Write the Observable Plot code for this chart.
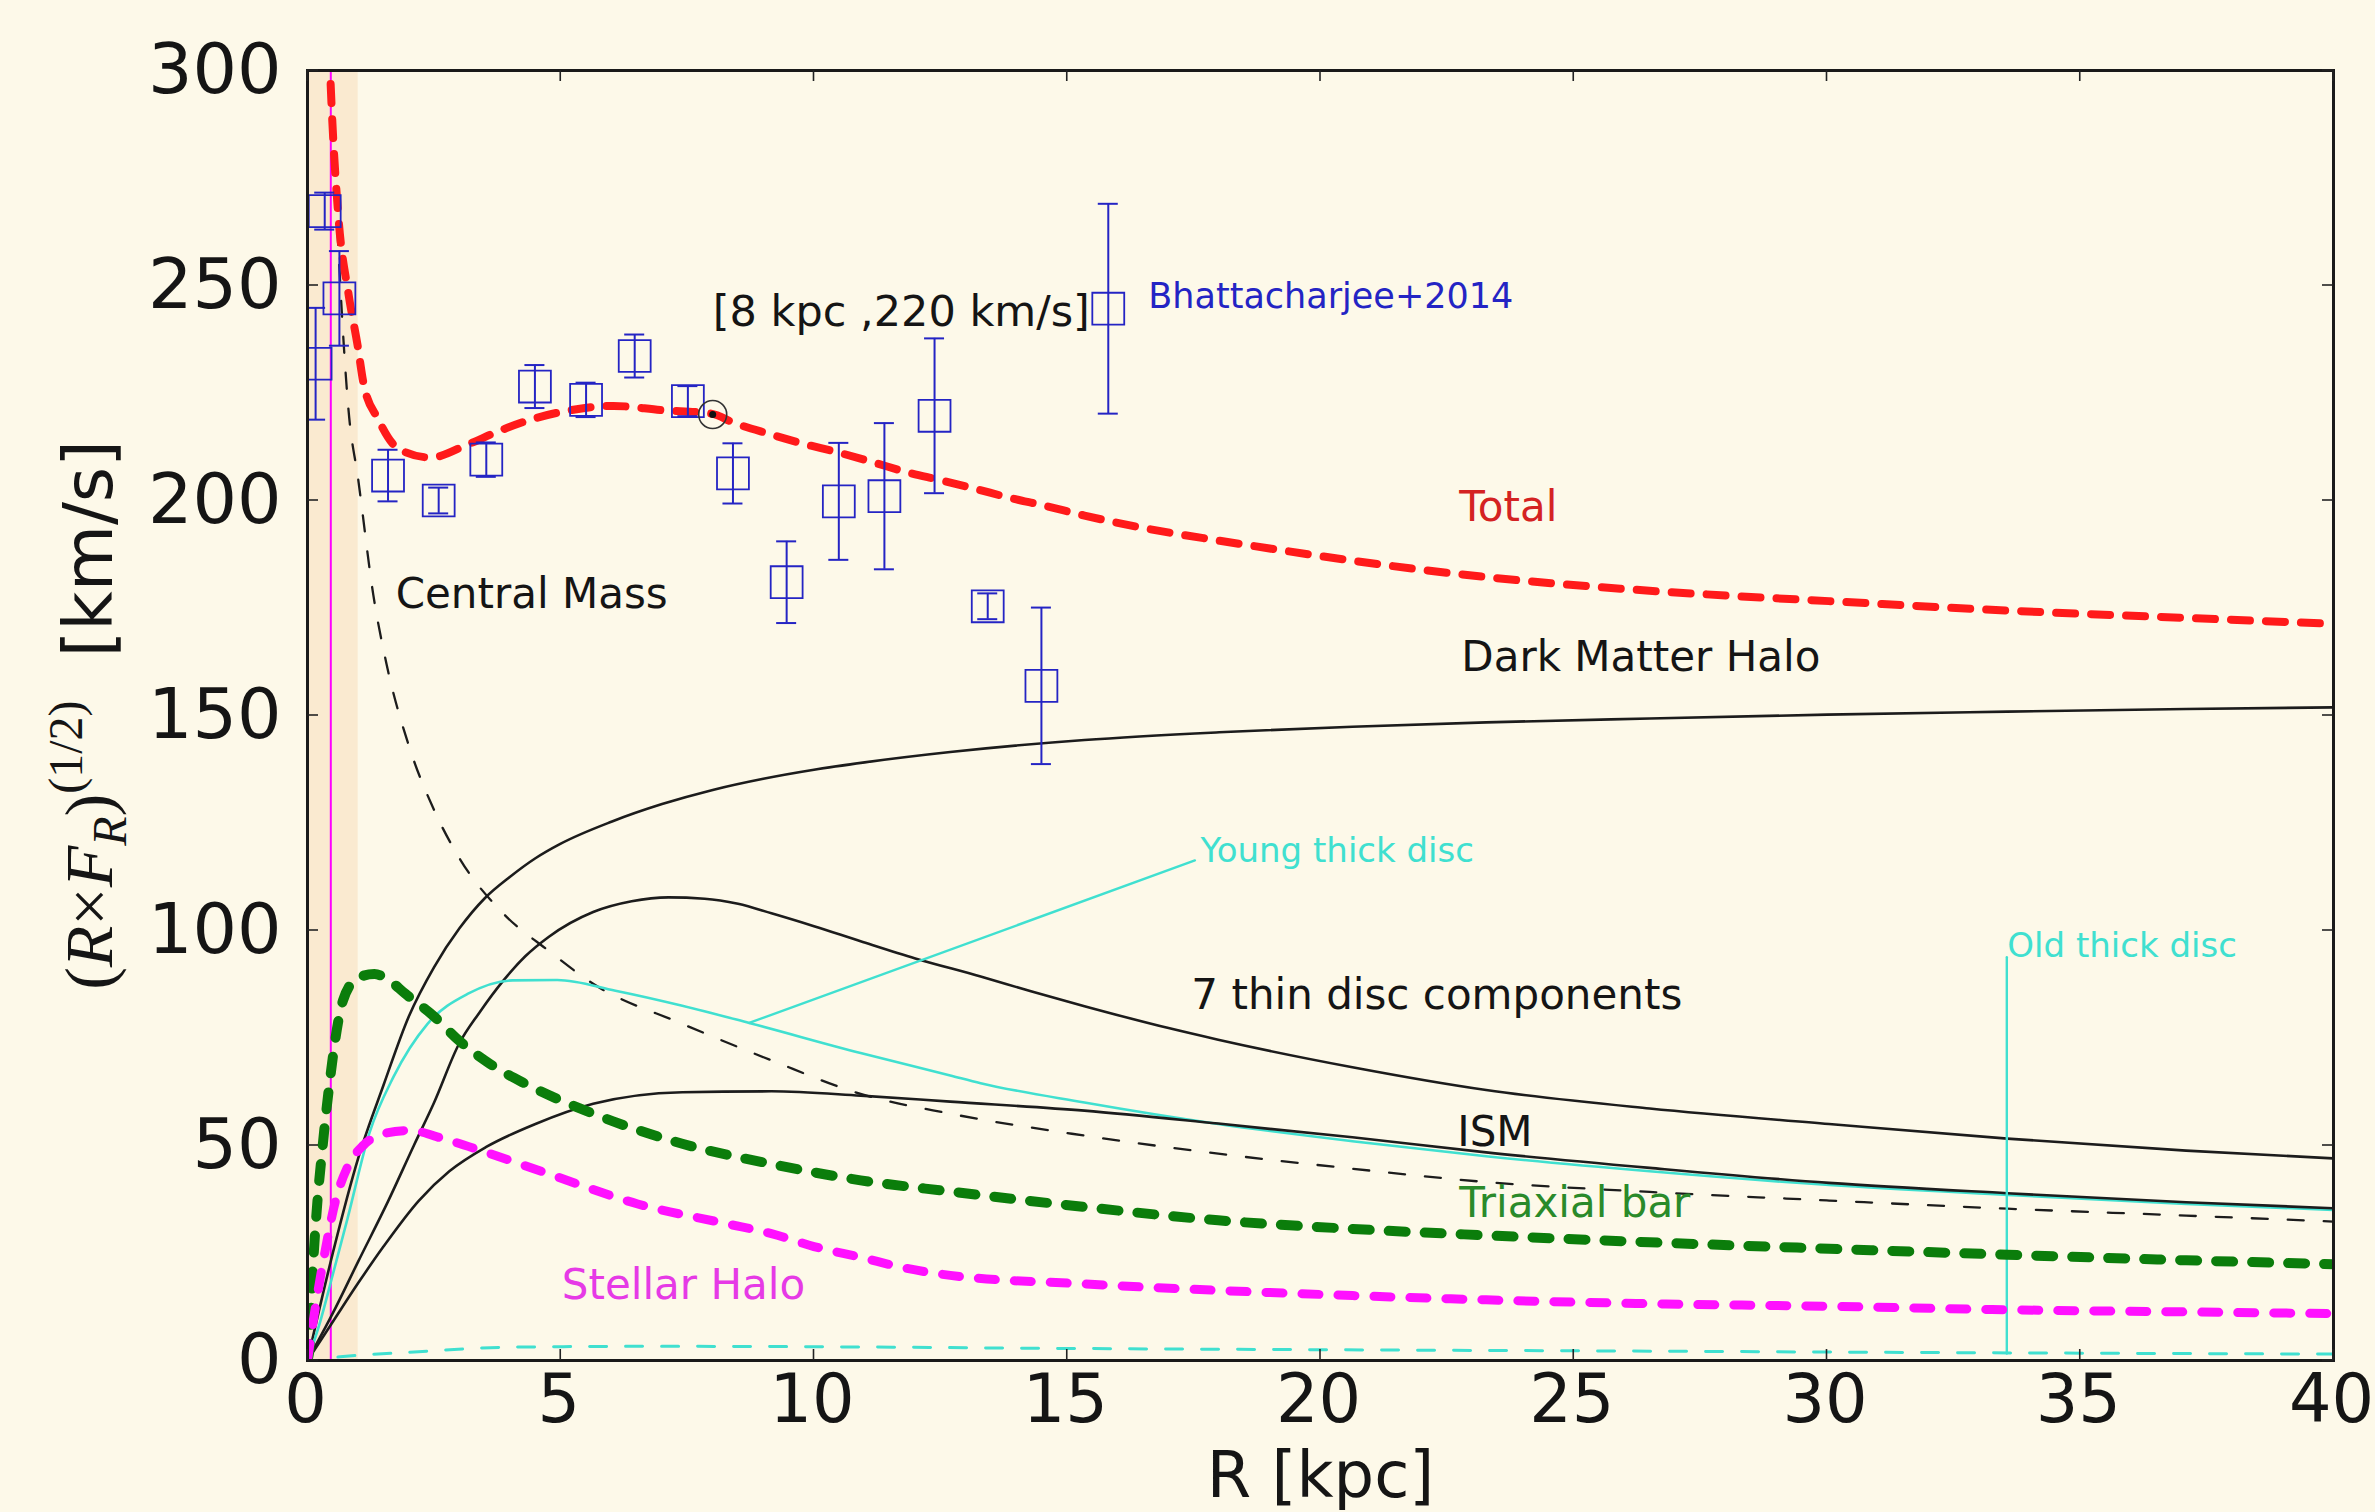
<!DOCTYPE html>
<html><head><meta charset="utf-8">
<script src="https://cdn.jsdelivr.net/npm/d3@7"></script>
<script src="https://cdn.jsdelivr.net/npm/@observablehq/plot@0.6"></script>
<style>html,body{margin:0;padding:0;background:#fdf9e9;} svg{display:block}</style>
</head><body><div id="chart"></div>
<script>
// ---- ticks ----
const xTicks = [0,5,10,15,20,25,30,35,40];
const yTicks = [0,50,100,150,200,250,300];

// ---- model curves (R [kpc], V [km/s]) ----
const totalR = [0.43,0.46,0.61,0.81,0.99,1.11,1.39,1.8,2.43,3.16,3.75,4.46,5.19,6.04,7.0,7.97,8.43,9.11,9.79,10.47,11.16,11.83,12.51,13.19,13.87,14.55,15.34,16.6,17.98,19.3,20.63,23.27,25.92,28,30.04,33.56,37.09,40];
const totalV = [305,296,266,248,236,227,219,212,210,213,216,219,221,222,221,220.2,218,215.5,213.2,211.2,208.9,206.6,204.7,202.7,200.6,198.8,196.5,193.4,190.7,188.3,186,182.2,179.5,177.9,176.6,174.4,172.7,171.3];

const haloR = [0,0.5,1,1.5,2,2.5,3,3.5,4,4.5,5,6,7,8,9,10,11,12.69,15.34,18,20.63,23.27,26.5,30,33.56,37.09,40];
const haloV = [0,25,47,64,80,91.5,100.5,107.5,112.5,116.8,120.2,125.3,129.4,132.7,135.3,137.4,139.1,141.5,144.3,146.1,147.4,148.4,149.3,150.2,150.9,151.5,151.9];

const thinR = [0,0.5,1,1.59,2.1,2.5,2.99,3.4,3.87,4.3,4.76,5.64,6.4,7.13,7.84,8.5,9.16,10,10.92,12,13.29,14.3,15.34,17,17.98,20.63,23.27,26.5,30.04,33.56,37.09,40];
const thinV = [0,11,23,37,50,60,73.6,81,88.4,94,98.5,104.3,106.8,107.7,107.4,106.2,104,101,97.5,93.5,89.3,85.8,82.4,77.3,74.6,68.2,62.9,58.6,55,51.6,48.8,47];

const youngR = [0,0.25,0.5,0.79,1.22,1.7,2.37,3.17,4.05,4.93,6.08,7.4,8.72,10.92,12.69,13.29,15.34,17.98,20.63,23.27,26.5,30.04,33.56,37.09,40];
const youngV = [0,9,20,33,52.8,66,78.3,85.3,88.4,88.5,86,82.5,78.5,71.5,66.3,64.5,60,55,51,47.5,44,40.8,38.5,36.4,35];

const ismR = [0,0.5,1,1.5,2.2,2.8,3.52,4.5,5.64,7.4,9.16,10.92,12.69,15.34,17.98,20.63,23.27,26.5,30.04,33.56,37.09,40];
const ismV = [0,9,18,26.5,37.2,44,49.6,55,59.7,62.4,62.6,61.6,60.2,58.1,55.1,51.9,48.4,44.8,41.3,38.9,36.8,35.4];

const centralR = [0.44,0.5,0.6,0.81,1.0,1.3,1.56,2,2.5,2.99,3.87,4.76,5.64,7.4,9.16,10.92,12.69,15.34,17.98,20.63,23.27,26.5,30.04,33.56,37.09,40];
const centralV = [305,287,261,221,205,178,162,143,128,117,103.9,95.3,87.6,78.3,69.8,62,57.4,52.3,48.1,44.6,41.5,39.2,37.2,35.3,33.7,32.3];

const barR = [0,0.04,0.1,0.17,0.3,0.43,0.7,1.0,1.32,1.6,1.93,2.5,2.99,3.6,4.31,5.64,7.4,9.16,10.92,12.69,15.34,17.98,20.63,23.27,26.5,30.04,33.56,37.09,40];
const barV = [0,3,20,33,50,64,83.7,89,89.9,88.5,85.3,80,74.4,69,64.3,57.4,50.4,45.7,41.9,39.3,35.7,32.6,30.6,29.1,27.5,26,24.6,23.3,22.4];

const shaloR = [0,0.15,0.35,0.55,0.79,1.1,1.49,2.02,2.7,3.43,4.76,6.52,8.28,9.16,10.0,10.92,11.8,12.69,15.34,17.98,20.63,23.27,26.5,30.04,33.56,37.09,40];
const shaloV = [0,12,25.6,37,45,50,52.7,53.5,51.5,48.8,43.4,36.4,31.8,29.5,26.5,24,21.5,19.8,17.8,16.3,15.1,14.1,13.2,12.6,11.8,11.3,10.9];

const oldR = [0.6,1,2,4,7,10,15,20,26,33,40];
const oldV = [0.8,1.2,1.9,3.1,3.3,3.2,2.8,2.5,2.2,1.8,1.5];

// ---- observations (Bhattacharjee+2014) ----
const obsR   = [0.16,0.34,0.63,1.59,2.59,3.53,4.49,5.5,6.46,7.51,8.4,9.46,10.49,11.39,12.38,13.43,14.49,15.81];
const obsV   = [231.8,267.3,247,205.8,200,209.5,226.5,223.4,233.6,223.1,206.3,181,199.8,201,219.7,175.4,156.9,244.6];
const obsErr = [13,4.3,11,6,3,4,5,4,5,3.5,7,9.5,13.6,17,18,3,18.2,24.4];

// ---- other elements ----
const band = [0, 1.0];
const magentaR = [0.46];
const sun = [{R: 8, V: 220}];
const youngPointer = [{R: 8.72, V: 78.5}, {R: 17.52, V: 116.3}];
const oldPointer = [{R: 33.55, V: 1.6}, {R: 33.55, V: 93.8}];

const labels = [
  {text: "Total", R: 22.74, V: 195.2, color: "#d42222", size: 42},
  {text: "Dark Matter Halo", R: 22.78, V: 160.3, color: "#151515", size: 42},
  {text: "7 thin disc components", R: 17.45, V: 81.8, color: "#151515", size: 42},
  {text: "ISM", R: 22.7, V: 50, color: "#151515", size: 42},
  {text: "Triaxial bar", R: 22.74, V: 33.3, color: "#2a8a2a", size: 42},
  {text: "Stellar Halo", R: 5.02, V: 14.4, color: "#e63ae6", size: 42},
  {text: "Central Mass", R: 1.74, V: 174.9, color: "#151515", size: 42},
  {text: "[8 kpc ,220 km/s]", R: 8.0, V: 240.5, color: "#151515", size: 43},
  {text: "Bhattacharjee+2014", R: 16.6, V: 244.8, color: "#2424c4", size: 35},
  {text: "Young thick disc", R: 17.63, V: 115.9, color: "#40e0d0", size: 34},
  {text: "Old thick disc", R: 33.56, V: 93.9, color: "#40e0d0", size: 34}
];

const rows = (R, V) => R.map((r, i) => ({R: r, V: V[i]}));
const obs = obsR.map((r, i) => ({R: r, V: obsV[i], err: obsErr[i]}));

const BG = "#fdf9e9", BLUE = "#2424c4", CYAN = "#40e0d0", BLACK = "#1c1c1c";

const lineOpts = (stroke, w, dash) => ({x: "R", y: "V", stroke, strokeWidth: w, strokeDasharray: dash, curve: "monotone-x", clip: true});

const plot = Plot.plot({
  width: 2375,
  height: 1512,
  marginLeft: 307,
  marginRight: 42,
  marginTop: 70,
  marginBottom: 152,
  style: {background: BG, fontFamily: "DejaVu Sans"},
  x: {domain: [0, 40], label: null},
  y: {domain: [0, 300], label: null},
  marks: [
    Plot.rect([band], {x1: d => d[0], x2: d => d[1], y1: 0, y2: 300, fill: "#faead0"}),
    Plot.ruleX(magentaR, {stroke: "#ff00ff", strokeWidth: 2}),
    Plot.line(rows(oldR, oldV), lineOpts(CYAN, 3, "17,19")),
    Plot.line(rows(centralR, centralV), lineOpts(BLACK, 2.3, "16,20")),
    Plot.line(rows(haloR, haloV), lineOpts(BLACK, 2.6)),
    Plot.line(rows(thinR, thinV), lineOpts(BLACK, 2.6)),
    Plot.line(rows(youngR, youngV), lineOpts(CYAN, 2.6)),
    Plot.line(rows(ismR, ismV), lineOpts(BLACK, 2.6)),
    Plot.line(youngPointer, {x: "R", y: "V", stroke: CYAN, strokeWidth: 2.4}),
    Plot.line(oldPointer, {x: "R", y: "V", stroke: CYAN, strokeWidth: 2.4}),
    Plot.line(rows(barR, barV), lineOpts("#0b7d0b", 10, "17,19")),
    Plot.line(rows(shaloR, shaloV), lineOpts("#ff10ff", 9, "17,19")),
    Plot.line(rows(totalR, totalV), lineOpts("#ff1a1a", 8, "19,16")),
    Plot.ruleX(obs, {x: "R", y1: d => d.V - d.err, y2: d => d.V + d.err, stroke: BLUE, strokeWidth: 2, clip: true}),
    Plot.ruleY(obs, {y: d => d.V + d.err, x1: "R", x2: "R", insetLeft: -10, insetRight: -10, stroke: BLUE, strokeWidth: 2, clip: true}),
    Plot.ruleY(obs, {y: d => d.V - d.err, x1: "R", x2: "R", insetLeft: -10, insetRight: -10, stroke: BLUE, strokeWidth: 2, clip: true}),
    Plot.dot(obs, {x: "R", y: "V", symbol: "square", r: 18, stroke: BLUE, fill: "none", strokeWidth: 1.8, clip: true}),
    Plot.dot(sun, {x: "R", y: "V", r: 14, stroke: "#333", strokeWidth: 1.6, fill: "none"}),
    Plot.dot(sun, {x: "R", y: "V", r: 3.5, fill: "#111"}),
    ...labels.map(l => Plot.text([l], {x: "R", y: "V", text: "text", fill: l.color, fontSize: l.size, textAnchor: "start", lineAnchor: "bottom"})),
    Plot.frame({stroke: "#1a1a1a", strokeWidth: 3}),
    Plot.axisX(xTicks, {anchor: "bottom", tickSize: 0, tickPadding: 14, dx: -2, fontSize: 67, label: null, fill: "#151515"}),
    Plot.axisY(yTicks, {anchor: "left", tickSize: 0, tickPadding: 26, fontSize: 70, label: null, fill: "#151515"}),
    Plot.text(["R [kpc]"], {frameAnchor: "bottom", dy: 136, lineAnchor: "bottom", fontSize: 64, fill: "#151515"})
  ]
});

document.getElementById("chart").appendChild(plot);

// inward ticks on all four sides and the mathematical y label
const svg = d3.select(plot);
const sx = plot.scale("x"), sy = plot.scale("y");
const x0 = sx.apply(0), x1 = sx.apply(40), y0 = sy.apply(0), y1 = sy.apply(300);
const g = svg.append("g").attr("stroke", "#222").attr("stroke-width", 1.6);
const L = 11;
for (const t of xTicks) {
  const x = sx.apply(t);
  g.append("line").attr("x1", x).attr("x2", x).attr("y1", y0).attr("y2", y0 - L);
  g.append("line").attr("x1", x).attr("x2", x).attr("y1", y1).attr("y2", y1 + L);
}
for (const t of yTicks) {
  const y = sy.apply(t);
  g.append("line").attr("y1", y).attr("y2", y).attr("x1", x0).attr("x2", x0 + L);
  g.append("line").attr("y1", y).attr("y2", y).attr("x1", x1).attr("x2", x1 - L);
}

const yl = svg.append("text")
  .attr("transform", `translate(112,${(y0 + y1) / 2}) rotate(-90)`)
  .attr("text-anchor", "middle")
  .attr("fill", "#151515")
  .attr("font-size", 68);
const serif = "'Liberation Serif', 'DejaVu Serif', serif";
yl.append("tspan").attr("font-family", serif).text("(");
yl.append("tspan").attr("font-family", serif).attr("font-style", "italic").text("R");
yl.append("tspan").attr("font-family", serif).text("\u00d7");
yl.append("tspan").attr("font-family", serif).attr("font-style", "italic").text("F");
yl.append("tspan").attr("font-family", serif).attr("font-style", "italic").attr("font-size", 48).attr("dy", 14).text("R");
yl.append("tspan").attr("font-family", serif).attr("dy", -14).text(")");
yl.append("tspan").attr("font-family", serif).attr("font-size", 48).attr("dy", -30).text("(1/2)");
yl.append("tspan").attr("font-family", "'DejaVu Sans'").attr("dy", 30).text("\u00a0\u00a0[km/s]");
</script>
</body></html>
